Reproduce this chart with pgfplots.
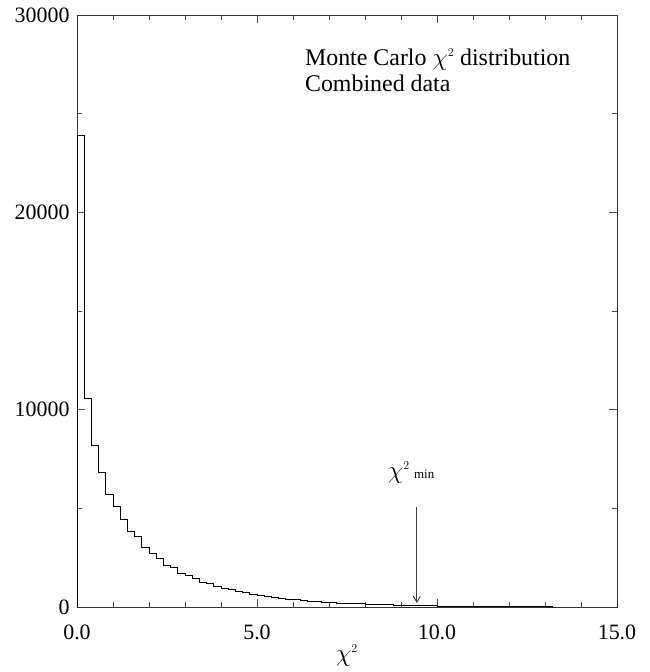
\documentclass[border=0pt]{standalone}
\usepackage{pgfplots}
\pgfplotsset{compat=1.18}
\usepackage{fontspec}
\setmainfont{Liberation Serif}
\usetikzlibrary{arrows.meta}
\begin{document}
\begin{tikzpicture}
\begin{axis}[
  name=ax,
  width=540bp, height=592bp, scale only axis=true,
  xmin=0, xmax=15, ymin=0, ymax=30000,
  xtick={0,5,10,15}, ytick={0,10000,20000,30000},
  minor xtick={1,2,3,4,6,7,8,9,11,12,13,14},
  minor ytick={5000,15000,25000},
  tick align=inside,
  xtick pos=both, ytick pos=both,
  major tick length=8bp, minor tick length=5bp,
  axis line style={line width=0.8bp, black!80},
  every tick/.style={black!70, line width=0.6bp},
  /pgf/number format/assume math mode=true,
  x tick label style={/pgf/number format/fixed, /pgf/number format/fixed zerofill, /pgf/number format/precision=1, yshift=-14bp},
  y tick label style={/pgf/number format/fixed, /pgf/number format/set thousands separator={}, xshift=-4bp},
  tick label style={font=\fontsize{22}{24}\selectfont},
  scaled y ticks=false,
  scaled x ticks=false,
  xlabel={$\chi^{\scriptscriptstyle 2}$},
  xlabel style={font=\fontsize{26}{28}\selectfont, yshift=1bp},
  clip=false,
]
\addplot[const plot, black, line width=0.9bp] table {
x y
0.0 0
0.0 23900
0.2 10550
0.4 8200
0.6 6800
0.8 5700
1.0 5100
1.2 4450
1.4 3850
1.6 3550
1.8 3000
2.0 2720
2.2 2470
2.4 2130
2.6 1990
2.8 1710
3.0 1590
3.2 1450
3.4 1240
3.6 1170
3.8 1050
4.0 950
4.2 880
4.4 790
4.6 720
4.8 650
5.0 590
5.2 540
5.4 490
5.6 440
5.8 400
6.0 365
6.2 335
6.4 300
6.6 275
6.8 250
7.0 225
7.2 205
7.4 185
7.6 170
7.8 155
8.0 140
8.2 128
8.4 115
8.6 105
8.8 95
9.0 86
9.2 78
9.4 70
9.6 64
9.8 58
10.0 52
10.2 47
10.4 42
10.6 38
10.8 34
11.0 31
11.2 28
11.4 25
11.6 22
11.8 20
12.0 18
12.2 16
12.4 14
12.6 12
12.8 11
13.0 10
13.2 0
};
\draw[-{Straight Barb[length=6bp,width=7bp]}, black!75, line width=0.9bp]
  (axis cs:9.44,5070) -- (axis cs:9.44,200);
\node[anchor=base west, inner sep=0pt]
  at (axis cs:8.64,6500) {\fontsize{26}{28}\selectfont$\chi^{\scriptscriptstyle 2}$\,\fontsize{13}{14}\selectfont min};
\node[anchor=base west, align=left, font=\fontsize{24}{27}\selectfont, inner sep=0pt]
  at (axis cs:6.33,26100) {Monte Carlo $\chi^{\scriptscriptstyle 2}$ distribution\\Combined data};
\end{axis}
\pgfresetboundingbox
\path[use as bounding box] ([xshift=-77bp,yshift=-65bp]ax.south west) rectangle ([xshift=33bp,yshift=15bp]ax.north east);
\end{tikzpicture}
\end{document}
